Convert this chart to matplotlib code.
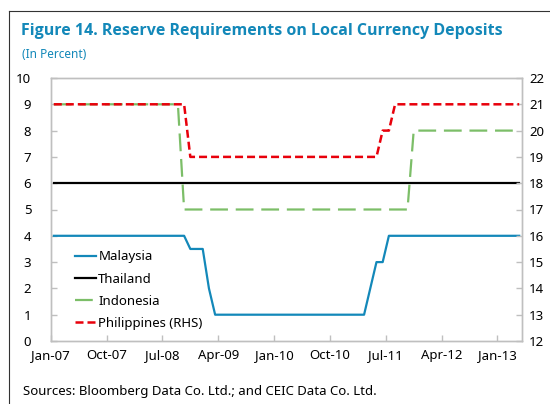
#!/usr/bin/env python3
"""Reserve requirements on local currency deposits (Figure 14)."""

import matplotlib

matplotlib.use("Agg")
import matplotlib.pyplot as plt
from matplotlib.lines import Line2D
import numpy as np

# monthly values, Jan-07 .. Apr-13
MALAYSIA = [4.0] * 22 + [3.5, 3.5, 3.5, 2.0] + [1.0] * 25 + [2.0, 3.0, 3.0] + [4.0] * 22
THAILAND = [6.0] * 76
INDONESIA = [9.0] * 21 + [5.0] * 37 + [8.0] * 18
PHILIPPINES = [21.0] * 22 + [19.0] * 31 + [20.0, 20.0] + [21.0] * 21

TICK_LABELS = ["Jan-07", "Oct-07", "Jul-08", "Apr-09", "Jan-10",
               "Oct-10", "Jul-11", "Apr-12", "Jan-13"]

BLUE = "#1388B9"
GREEN = "#7CBE68"
RED = "#E8000B"
GRAY = "#BFBFBF"

plt.rcParams["font.family"] = ["Noto Sans", "DejaVu Sans"]

W, H = 550, 404
fig = plt.figure(figsize=(W / 100, H / 100), dpi=100)
ax = fig.add_axes([50.7 / W, 1 - 341 / H, (522.3 - 50.7) / W, (341 - 78) / H])
ax2 = ax.twinx()

x = np.arange(len(MALAYSIA)) + 0.5
l1, = ax.plot(x, MALAYSIA, color=BLUE, lw=1.6, label="Malaysia")
l2, = ax.plot(x, THAILAND, color="black", lw=1.6, label="Thailand")
l3, = ax.plot(x, INDONESIA, color=GREEN, lw=1.6, dashes=(8, 3.5), label="Indonesia")
l4, = ax2.plot(x, PHILIPPINES, color=RED, lw=1.8, dashes=(3.2, 1.6),
               label="Philippines (RHS)")

ax.set_xlim(0, 76)
ax.set_ylim(0, 10)
ax2.set_ylim(12, 22)
ax.set_yticks(range(0, 11))
ax2.set_yticks(range(12, 23))
ax.set_xticks(range(0, 9 * len(TICK_LABELS), 9), TICK_LABELS)

for a in (ax, ax2):
    for spine in a.spines.values():
        spine.set_color(GRAY)
        spine.set_linewidth(1.0)
    a.tick_params(direction="in", color=GRAY, length=4, width=1,
                  labelsize=9.5, labelcolor="black")
ax.tick_params(axis="y", pad=14)
ax.tick_params(axis="x", pad=6)
ax2.tick_params(axis="y", pad=5)

ax2.legend(
    handles=[l1, l2, l3, l4],
    loc="upper left",
    bbox_to_anchor=(70 / W, 1 - 245 / H),
    bbox_transform=fig.transFigure,
    frameon=False,
    fontsize=9.5,
    handlelength=1.6,
    handletextpad=0.15,
    labelspacing=0.7,
    borderaxespad=0,
)

fig.text(21 / W, 1 - 31 / H,
         "Figure 14. Reserve Requirements on Local Currency Deposits",
         color=BLUE, fontsize=11.5, fontweight="bold", va="center",
         family=["Open Sans", "DejaVu Sans"])
fig.text(22 / W, 1 - 54 / H, "(In Percent)", color=BLUE, fontsize=8.5, va="center")
fig.text(23 / W, 1 - 391 / H,
         "Sources: Bloomberg Data Co. Ltd.; and CEIC Data Co. Ltd.",
         fontsize=9.5, va="center")

# outer frame of the figure box
fig.add_artist(Line2D([9 / W, 1], [1 - 11 / H, 1 - 11 / H], color="#333333", lw=0.8))
fig.add_artist(Line2D([9 / W, 9 / W], [0, 1 - 11 / H], color="#333333", lw=0.8))

fig.savefig("out.png", dpi=100)
